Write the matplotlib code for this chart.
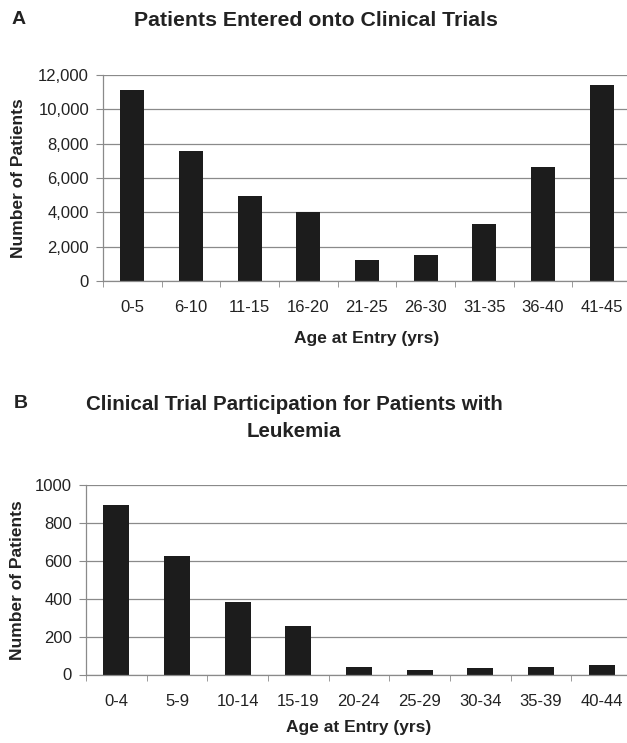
import numpy as np
import matplotlib
matplotlib.use("Agg")
import matplotlib.pyplot as plt
from matplotlib.ticker import FuncFormatter

plt.rcParams['font.family'] = ['Liberation Sans', 'DejaVu Sans']

# panel A data
ages_a = ["0-5", "6-10", "11-15", "16-20", "21-25", "26-30", "31-35", "36-40", "41-45"]
patients_a = [11150, 7600, 4930, 4030, 1210, 1540, 3300, 6630, 11430]

# panel B data
ages_b = ["0-4", "5-9", "10-14", "15-19", "20-24", "25-29", "30-34", "35-39", "40-44"]
patients_b = [895, 626, 385, 257, 37, 22, 34, 37, 51]

W, H = 627, 743
fig = plt.figure(figsize=(W / 100, H / 100), dpi=100)
fig.patch.set_facecolor("white")

txt = "#222222"
grid_c = "#8a8a8a"


def px_axes(left, top, right, bottom):
    return fig.add_axes([left / W, 1 - bottom / H, (right - left) / W, (bottom - top) / H])


def style(ax, labels, ymax, step, fmt, xpad, lpad):
    x = np.arange(len(labels))
    ax.set_xlim(-0.5, len(labels) - 0.5)
    ax.set_ylim(0, ymax)
    ax.set_yticks(np.arange(0, ymax + 1, step))
    ax.yaxis.set_major_formatter(FuncFormatter(fmt))
    ax.set_xticks(x)
    ax.set_xticklabels(labels, fontsize=12, color=txt)
    ax.set_xticks(np.arange(len(labels)) - 0.5, minor=True)
    ax.tick_params(axis='x', which='major', length=0, pad=xpad)
    ax.tick_params(axis='x', which='minor', length=4, color=grid_c, direction='out')
    ax.tick_params(axis='y', length=5, color=grid_c, labelsize=12, labelcolor=txt, pad=5)
    ax.grid(axis='y', color=grid_c, linewidth=0.9)
    ax.set_axisbelow(True)
    for s in ['top', 'right']:
        ax.spines[s].set_visible(False)
    ax.spines['left'].set_color(grid_c)
    ax.spines['bottom'].set_color(grid_c)
    ax.spines['left'].set_linewidth(0.9)
    ax.spines['bottom'].set_linewidth(0.9)
    ax.set_xlabel("Age at Entry (yrs)", fontsize=12.5, fontweight='bold', color=txt, labelpad=lpad)
    ax.set_ylabel("Number of Patients", fontsize=12.5, fontweight='bold', color=txt)


# panel A
ax1 = px_axes(103, 75, 631, 281)
ax1.bar(np.arange(len(ages_a)), patients_a, width=0.41, color="#1c1c1c")
style(ax1, ages_a, 12000, 2000, lambda v, p: f"{int(v):,}", 14, 11)
ax1.yaxis.set_label_coords((26 - 103) / 528, 0.5)

fig.text(12 / W, 1 - 20 / H, "A", fontsize=14, fontweight='bold', color=txt, va='center')
fig.text(316 / W, 1 - 20 / H, "Patients Entered onto Clinical Trials",
         fontsize=15.3, fontweight='bold', color=txt, ha='center', va='center')

# panel B
ax2 = px_axes(86, 485, 632, 674.5)
ax2.bar(np.arange(len(ages_b)), patients_b, width=0.43, color="#1c1c1c")
style(ax2, ages_b, 1000, 200, lambda v, p: f"{int(v)}", 14, 8)
ax2.yaxis.set_label_coords((25 - 86) / 546, 0.5)

fig.text(14 / W, 1 - 403 / H, "B", fontsize=14, fontweight='bold', color=txt, va='center')
fig.text(294 / W, 1 - 418 / H, "Clinical Trial Participation for Patients with\nLeukemia",
         fontsize=14.8, fontweight='bold', color=txt, ha='center', va='center',
         linespacing=1.5)

fig.savefig("out.png", dpi=100, facecolor="white")
